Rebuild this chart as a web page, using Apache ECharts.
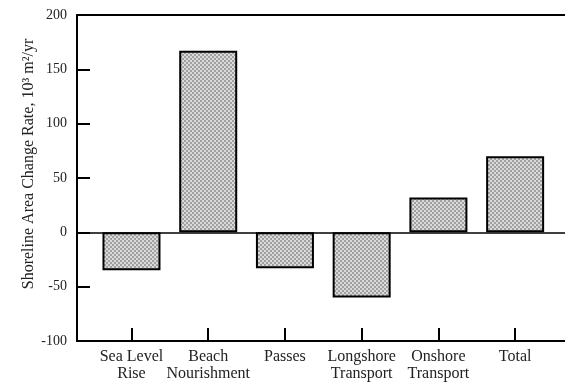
<!DOCTYPE html>
<html>
<head>
<meta charset="utf-8">
<script src="https://cdn.jsdelivr.net/npm/echarts@6/dist/echarts.min.js"></script>
<style>html,body{margin:0;padding:0;background:#fff}#c{width:565px;height:382px}</style>
</head>
<body>
<div id="c"></div>
<script>
var categories = ['Sea Level\nRise', 'Beach\nNourishment', 'Passes', 'Longshore\nTransport', 'Onshore\nTransport', 'Total'];
var values = [-35, 167, -33, -60, 32, 70];
var positions = [1, 2, 3, 4, 5, 6];
var yAxisTitle = 'Shoreline Area Change Rate, 10\u00b3 m\u00b2/yr';

function makePattern() {
  var c = document.createElement('canvas');
  c.width = 4; c.height = 4;
  var g = c.getContext('2d');
  g.fillStyle = '#dadada'; g.fillRect(0, 0, 4, 4);
  g.fillStyle = '#a0a0a0';
  g.fillRect(0, 0, 2, 2); g.fillRect(2, 2, 2, 2);
  return c;
}
var pattern = makePattern();
var font = 'Liberation Serif';

var chart = echarts.init(document.getElementById('c'), null, {renderer: 'canvas'});
chart.setOption({
  animation: false,
  backgroundColor: '#fff',
  grid: {left: 77, right: 0, top: 15, bottom: 39},
  xAxis: [{
    type: 'value', min: 0.29, max: 6.65,
    splitLine: {show: false},
    axisLine: {show: true, onZero: false, lineStyle: {color: '#000', width: 2}},
    axisTick: {show: true, inside: true, length: 13, lineStyle: {color: '#000', width: 2}, customValues: positions},
    axisLabel: {
      customValues: positions,
      formatter: function (v) { return categories[Math.round(v) - 1] || ''; },
      fontFamily: font, fontSize: 16, color: '#222', lineHeight: 17, margin: 7
    }
  }, {
    type: 'value', position: 'top', min: 0.29, max: 6.65,
    splitLine: {show: false},
    axisLine: {show: true, onZero: false, lineStyle: {color: '#000', width: 2}},
    axisTick: {show: false}, axisLabel: {show: false}
  }],
  yAxis: {
    type: 'value', min: -100, max: 200, interval: 50,
    splitLine: {show: false},
    axisLine: {show: true, onZero: false, lineStyle: {color: '#000', width: 2}},
    axisTick: {show: true, inside: true, length: 13, lineStyle: {color: '#000', width: 2}},
    axisLabel: {fontFamily: font, fontSize: 14, color: '#222', margin: 10},
    name: yAxisTitle, nameLocation: 'middle', nameRotate: 90, nameGap: 40,
    nameMoveOverlap: false,
    nameTextStyle: {fontFamily: font, fontSize: 16, color: '#222', padding: [0, 0, 0, 28]}
  },
  series: [{
    type: 'bar',
    barWidth: 58,
    data: positions.map(function (p, i) { return [p, values[i]]; }),
    itemStyle: {color: {image: pattern, repeat: 'repeat'}, borderColor: '#000', borderWidth: 2},
    markLine: {
      silent: true, symbol: 'none', label: {show: false},
      lineStyle: {color: '#000', width: 1.5, type: 'solid'},
      data: [{yAxis: 0}]
    }
  }]
});
</script>
</body>
</html>
